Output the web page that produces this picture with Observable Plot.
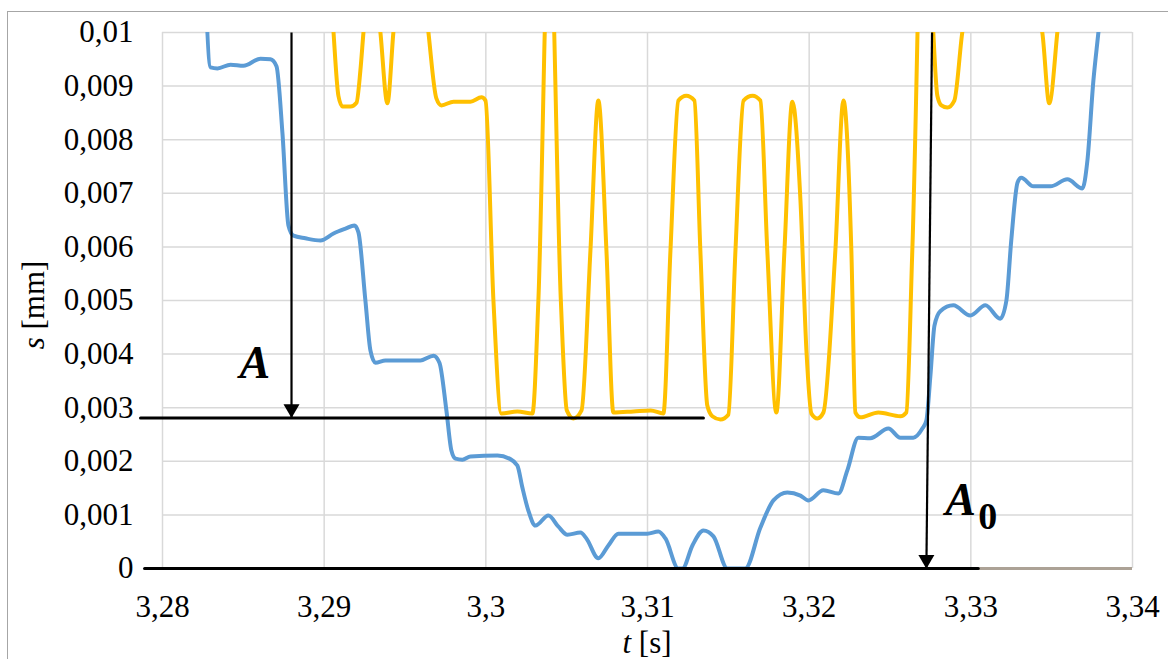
<!DOCTYPE html>
<html><head><meta charset="utf-8">
<script src="https://cdn.jsdelivr.net/npm/d3@7"></script>
<script src="https://cdn.jsdelivr.net/npm/@observablehq/plot@0.6"></script>
<style>
html,body{margin:0;padding:0;background:#fff;overflow:hidden;width:1168px;height:659px;}
#frame{position:absolute;left:7px;top:11px;width:1200px;height:700px;border:1px solid #a6a6a6;box-sizing:border-box;}
#chart{position:absolute;left:0;top:0;}
</style></head><body><div id="frame"></div><div id="chart"></div>
<script>
// tick values
const xTicks = [3.28, 3.29, 3.30, 3.31, 3.32, 3.33, 3.34];
const yTicks = [0, 0.001, 0.002, 0.003, 0.004, 0.005, 0.006, 0.007, 0.008, 0.009, 0.01];

// blue series (t [s], s [mm])
const blueT = [3.28260,3.28297,3.28340,3.28421,3.28501,3.28606,3.28668,3.28705,3.28742,3.28779,3.28810,3.28884,3.28977,3.29058,3.29132,3.29187,3.29212,3.29255,3.29286,3.29317,3.29379,3.29596,3.29676,3.29713,3.29756,3.29787,3.29812,3.29855,3.29905,3.30072,3.30146,3.30195,3.30226,3.30263,3.30307,3.30387,3.30449,3.30505,3.30585,3.30622,3.30696,3.30758,3.30820,3.30913,3.30999,3.31067,3.31111,3.31191,3.31216,3.31278,3.31346,3.31408,3.31494,3.31605,3.31698,3.31779,3.31865,3.31946,3.31995,3.32088,3.32181,3.32236,3.32304,3.32378,3.32490,3.32564,3.32644,3.32700,3.32725,3.32750,3.32775,3.32811,3.32892,3.32997,3.33090,3.33182,3.33220,3.33250,3.33289,3.33312,3.33387,3.33492,3.33597,3.33690,3.33721,3.33758,3.33789,3.33826];
const blueS = [0.0113,0.00935,0.00933,0.00940,0.00938,0.00951,0.00950,0.00937,0.00812,0.00640,0.00621,0.00616,0.00612,0.00625,0.00634,0.00640,0.00627,0.00500,0.00407,0.00384,0.00388,0.00388,0.00397,0.00384,0.00295,0.00220,0.00205,0.00203,0.00209,0.00211,0.00205,0.00192,0.00151,0.00108,0.00080,0.00099,0.00078,0.00063,0.00067,0.00056,0.00019,0.00043,0.00065,0.00065,0.00065,0.00069,0.00056,0,0,0.00043,0.00071,0.00060,0,0,0.00076,0.00127,0.00142,0.00136,0.00127,0.00146,0.00140,0.00183,0.00244,0.00243,0.00261,0.00244,0.00244,0.00261,0.00276,0.00360,0.00453,0.00480,0.00491,0.00472,0.00491,0.00466,0.00500,0.00612,0.00720,0.00729,0.00713,0.00713,0.00726,0.00709,0.00761,0.00910,0.0100,0.0111];

// yellow series
const yellowT = [3.29033,3.29058,3.29088,3.29113,3.29163,3.29200,3.29224,3.29243,3.29292,3.29348,3.29391,3.29428,3.29534,3.29645,3.29694,3.29725,3.29800,3.29905,3.29973,3.29998,3.30047,3.30096,3.30195,3.30288,3.30325,3.30393,3.30464,3.30501,3.30542,3.30592,3.30647,3.30696,3.30746,3.30789,3.30913,3.31020,3.31098,3.31142,3.31191,3.31240,3.31290,3.31327,3.31370,3.31401,3.31451,3.31500,3.31544,3.31594,3.31650,3.31698,3.31741,3.31797,3.31847,3.31896,3.31946,3.31983,3.32014,3.32051,3.32088,3.32162,3.32212,3.32261,3.32286,3.32317,3.32428,3.32564,3.32601,3.32638,3.32718,3.32768,3.32793,3.32818,3.32855,3.32898,3.32947,3.33182,3.33442,3.33485,3.33535,3.33566];
const yellowS = [0.0113,0.0100,0.00882,0.00862,0.00862,0.00869,0.00929,0.0100,0.0116,0.0100,0.00868,0.0100,0.0135,0.0100,0.00877,0.00864,0.00871,0.00871,0.00879,0.00873,0.00500,0.00289,0.00293,0.00289,0.00500,0.0123,0.00500,0.00295,0.00280,0.00295,0.00593,0.00873,0.00593,0.00291,0.00293,0.00295,0.00289,0.00593,0.00873,0.00882,0.00873,0.00593,0.00304,0.00284,0.00278,0.00287,0.00593,0.00873,0.00882,0.00873,0.00593,0.00291,0.00593,0.00871,0.00687,0.00407,0.00289,0.00280,0.00291,0.00593,0.00873,0.00593,0.00291,0.00282,0.00291,0.00284,0.00291,0.00593,0.0145,0.0100,0.00882,0.00864,0.00860,0.00873,0.0100,0.0125,0.0100,0.00868,0.0100,0.0110];

// annotation lines (A level and zero level)
const levelAT = [3.27864, 3.31346];
const levelAS = 0.00281;
const levelZeroT = [3.27889, 3.33046];
// arrows: start (t, s) -> end (t, s)
const arrowX1 = [3.28798, 3.32760];
const arrowY1 = [0.01, 0.01];
const arrowX2 = [3.28798, 3.32725];
const arrowY2 = [0.00281, 0];
// labels
const labelA = [{t: 3.28476, s: 0.00356, text: "A"}, {t: 3.32842, s: 0.00099, text: "A"}];
const labelSub = [{t: 3.33046, s: 0.00073, text: "0"}];

const blue = blueT.map((t, i) => ({t, s: blueS[i]}));
const yellow = yellowT.map((t, i) => ({t, s: yellowS[i]}));
const lineA = levelAT.map(t => ({t, s: levelAS}));
const lineZero = levelZeroT.map(t => ({t, s: 0}));
const arrows = arrowX1.map((x1, i) => ({x1, y1: arrowY1[i], x2: arrowX2[i], y2: arrowY2[i]}));

const fmt = d => String(+d.toFixed(4)).replace(".", ",");
const FONT = "Liberation Serif";

const plot = Plot.plot({
  width: 1168, height: 659,
  marginLeft: 162, marginRight: 36, marginTop: 32, marginBottom: 91,
  style: {fontFamily: FONT, color: "#000", background: "transparent", overflow: "visible"},
  x: {domain: [3.28, 3.34], axis: null},
  y: {domain: [0, 0.01], axis: null},
  marks: [
    Plot.gridX(xTicks, {stroke: "#d9d9d9", strokeOpacity: 1, strokeWidth: 1.5}),
    Plot.gridY(yTicks, {stroke: "#d9d9d9", strokeOpacity: 1, strokeWidth: 1.5}),
    // tick labels
    Plot.text(xTicks, {x: d => d, frameAnchor: "bottom", dy: 26, lineAnchor: "top", text: fmt, fontSize: 31, fontFamily: FONT, fill: "#000"}),
    Plot.text(yTicks, {y: d => d, frameAnchor: "left", dx: -29, textAnchor: "end", lineAnchor: "middle", text: fmt, fontSize: 31, fontFamily: FONT, fill: "#000"}),
    Plot.ruleY([0], {stroke: "#aca296", strokeWidth: 3}),
    Plot.line(yellow, {x: "t", y: "s", stroke: "#ffc000", strokeWidth: 4, curve: "monotone-x", clip: true}),
    Plot.line(blue, {x: "t", y: "s", stroke: "#5b9bd5", strokeWidth: 4, curve: "monotone-x", clip: true}),
    Plot.line(lineA, {x: "t", y: "s", stroke: "#000", strokeWidth: 3}),
    Plot.line(lineZero, {x: "t", y: "s", stroke: "#000", strokeWidth: 3}),
    Plot.link(arrows, {x1: "x1", y1: "y1", x2: "x2", y2: "y2", stroke: "#000", strokeWidth: 2.2}),
    Plot.dot(arrows, {x: "x2", y: "y2", symbol: "triangle", r: 5.94, fill: "#000", stroke: "none", rotate: 180, dy: -9}),
    Plot.text(labelA, {x: "t", y: "s", text: "text", textAnchor: "start", lineAnchor: "bottom", fontSize: 46, fontWeight: "bold", fontStyle: "italic", fontFamily: FONT, fill: "#000"}),
    Plot.text(labelSub, {x: "t", y: "s", text: "text", textAnchor: "start", lineAnchor: "bottom", fontSize: 38, fontWeight: "bold", fontFamily: FONT, fill: "#000"})
  ]
});

// axis titles with italic symbols
const svg = d3.select(plot);
const xr = plot.scale("x").range, yr = plot.scale("y").range;
const xt = svg.append("text").attr("x", (xr[0] + xr[1]) / 2).attr("y", yr[0] + 85)
  .attr("text-anchor", "middle").attr("font-size", 31).attr("font-family", FONT).attr("fill", "#000");
xt.append("tspan").attr("font-style", "italic").text("t");
xt.append("tspan").text(" [s]");
const yt = svg.append("text").attr("transform", `translate(${xr[0] - 118},${(yr[0] + yr[1]) / 2 + 5}) rotate(-90)`)
  .attr("text-anchor", "middle").attr("font-size", 31).attr("font-family", FONT).attr("fill", "#000");
yt.append("tspan").attr("font-style", "italic").text("s");
yt.append("tspan").text(" [mm]");

document.getElementById("chart").appendChild(plot);
</script></body></html>
